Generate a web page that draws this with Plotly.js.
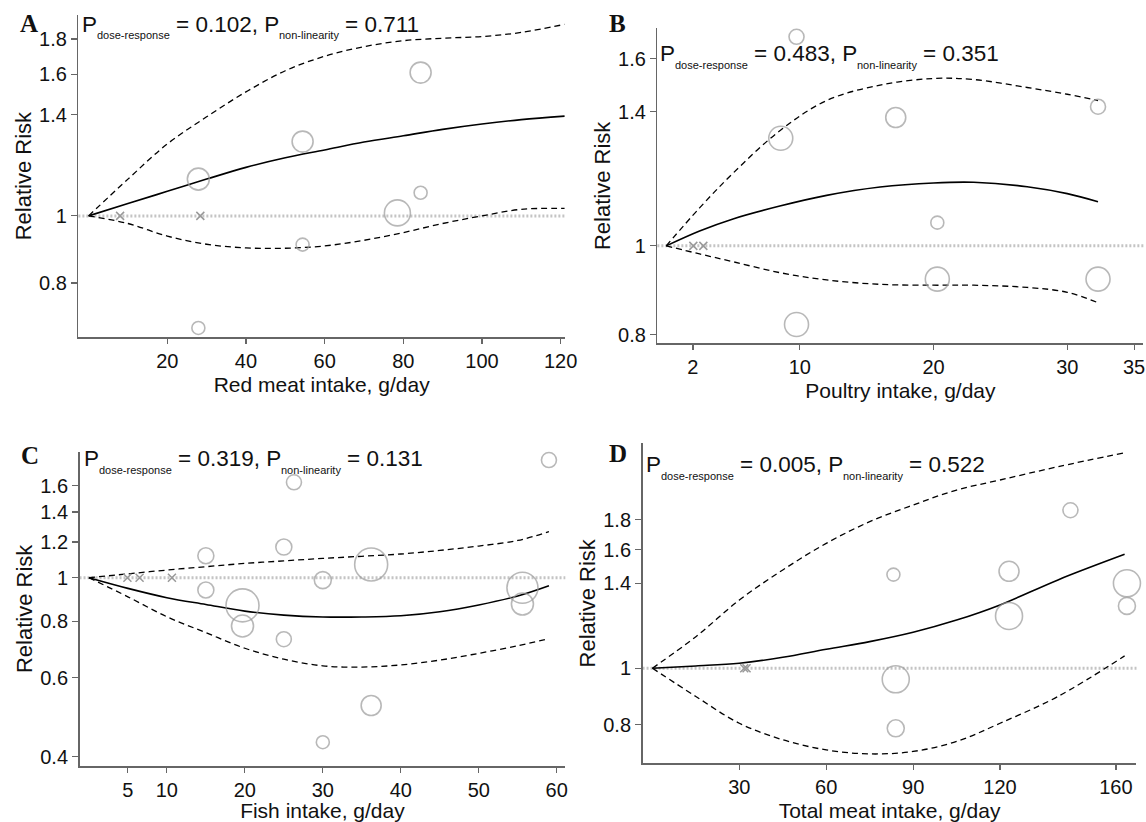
<!DOCTYPE html>
<html>
<head>
<meta charset="utf-8">
<script src="https://cdn.plot.ly/plotly-3.0.1.min.js"></script>
<style>html,body{margin:0;padding:0;background:#fff;}#chart{width:1146px;height:822px;}</style>
</head>
<body>
<div id="chart"></div>
<script>
// ---------------- DATA ----------------
var panelLetters = ['A', 'B', 'C', 'D'];
var xTitles = ['Red meat intake, g/day', 'Poultry intake, g/day', 'Fish intake, g/day', 'Total meat intake, g/day'];
var pDose = ['0.102', '0.483', '0.319', '0.005'];
var pNonlin = ['0.711', '0.351', '0.131', '0.522'];

// Panel A: red meat
var aCurveX = [0, 10, 20, 30, 40, 50, 60, 70, 80, 90, 100, 110, 121];
var aRR     = [1, 1.042, 1.085, 1.13, 1.175, 1.213, 1.245, 1.278, 1.305, 1.333, 1.357, 1.377, 1.393];
var aUpper  = [1, 1.13, 1.27, 1.39, 1.51, 1.62, 1.70, 1.755, 1.79, 1.805, 1.815, 1.84, 1.89];
var aLower  = [1, 0.975, 0.935, 0.91, 0.899, 0.898, 0.905, 0.922, 0.946, 0.975, 1.0, 1.022, 1.025];
var aStudyX = [27.9, 27.9, 54.4, 54.4, 78.5, 84.4, 84.4, 121.3];
var aStudyRR = [1.13, 0.689, 1.28, 0.909, 1.01, 1.61, 1.08, 1.12];
var aWeight = [22, 13, 21, 13, 26, 21, 13, 26];
var aRefX = [8.0, 28.4];

// Panel B: poultry
var bCurveX = [0, 2.5, 5, 8.5, 12, 16, 20, 23, 27, 30, 32.3];
var bRR     = [1, 1.038, 1.07, 1.105, 1.135, 1.159, 1.171, 1.173, 1.16, 1.14, 1.117];
var bUpper  = [1, 1.1, 1.2, 1.335, 1.44, 1.497, 1.522, 1.518, 1.488, 1.463, 1.44];
var bLower  = [1, 0.98, 0.961, 0.935, 0.918, 0.908, 0.906, 0.906, 0.901, 0.89, 0.867];
var bStudyX = [9.75, 8.57, 17.17, 32.3, 20.28, 20.28, 32.3, 9.75];
var bStudyRR = [1.69, 1.31, 1.38, 1.418, 1.06, 0.92, 0.92, 0.821];
var bWeight = [15, 24, 20, 15, 13, 24, 24, 24];
var bRefX = [2.03, 2.78];

// Panel C: fish
var cCurveX = [0, 5, 10, 15, 20, 25, 30, 35, 40, 45, 50, 55, 59];
var cRR     = [1, 0.947, 0.903, 0.872, 0.843, 0.826, 0.818, 0.818, 0.823, 0.84, 0.87, 0.911, 0.96];
var cUpper  = [1, 1.02, 1.04, 1.058, 1.076, 1.09, 1.104, 1.116, 1.129, 1.15, 1.176, 1.21, 1.266];
var cLower  = [1, 0.907, 0.819, 0.755, 0.697, 0.659, 0.637, 0.633, 0.64, 0.656, 0.679, 0.706, 0.732];
var cStudyX = [59.0, 26.3, 15.0, 15.0, 25.0, 25.0, 19.7, 19.7, 30.0, 30.0, 36.2, 36.2, 55.6, 55.6];
var cStudyRR = [1.826, 1.63, 1.119, 0.939, 1.17, 0.73, 0.868, 0.781, 0.988, 0.431, 1.07, 0.52, 0.95, 0.874];
var cWeight = [15, 15, 16, 16, 16, 15, 33, 22, 17, 13, 33, 20, 31, 22];
var cRefX = [4.94, 6.5, 10.65];

// Panel D: total meat
var dCurveX = [0, 15, 30, 45, 60, 75, 90, 105, 120, 140, 163];
var dRR     = [1, 1.009, 1.02, 1.044, 1.078, 1.111, 1.153, 1.21, 1.285, 1.419, 1.57];
var dUpper  = [1, 1.133, 1.31, 1.476, 1.64, 1.787, 1.909, 2.026, 2.108, 2.222, 2.349];
var dLower  = [1, 0.894, 0.804, 0.753, 0.7235, 0.712, 0.719, 0.748, 0.804, 0.894, 1.05];
var dStudyX = [144.3, 83.2, 123.1, 123.1, 163.8, 163.8, 84.0, 84.0];
var dStudyRR = [1.87, 1.449, 1.468, 1.23, 1.40, 1.28, 0.957, 0.788];
var dWeight = [15, 13, 20, 27, 27, 17, 27, 17];
var dRefX = [31.7, 32.5];

// tick labels
var aXTicks = [20, 40, 60, 80, 100, 120];
var aYTicks = [0.8, 1, 1.4, 1.6, 1.8];
var bXTicks = [2, 10, 20, 30, 35];
var bYTicks = [0.8, 1, 1.4, 1.6];
var cXTicks = [5, 10, 20, 30, 40, 50, 60];
var cYTicks = [0.4, 0.6, 0.8, 1, 1.2, 1.4, 1.6];
var dXTicks = [30, 60, 90, 120, 160];
var dYTicks = [0.8, 1, 1.4, 1.6, 1.8];
var refRR = 1;

// ---------------- LAYOUT / STYLE ----------------
var panels = [
  {cx: aCurveX, rr: aRR, up: aUpper, lo: aLower, sx: aStudyX, sy: aStudyRR, w: aWeight, rx: aRefX, xt: aXTicks, yt: aYTicks,
   xdom: [0.0684, 0.4930], ydom: [0.5897, 0.9818], xr: [-2.6, 121.1], yr: [0.668, 1.95],
   letter: [18, 24], ann: [82, 32.3]},
  {cx: bCurveX, rr: bRR, up: bUpper, lo: bLower, sx: bStudyX, sy: bStudyRR, w: bWeight, rx: bRefX, xt: bXTicks, yt: bYTicks,
   xdom: [0.5736, 0.9978], ydom: [0.5823, 0.9655], xr: [-0.66, 35.7], yr: [0.783, 1.726],
   letter: [607, 23.5], ann: [659.5, 61.7]},
  {cx: cCurveX, rr: cRR, up: cUpper, lo: cLower, sx: cStudyX, sy: cStudyRR, w: cWeight, rx: cRefX, xt: cXTicks, yt: cYTicks,
   xdom: [0.0694, 0.4933], ydom: [0.0681, 0.4505], xr: [-1.2, 61.1], yr: [0.3815, 1.906],
   letter: [19, 455], ann: [84, 466.7]},
  {cx: dCurveX, rr: dRR, up: dUpper, lo: dLower, sx: dStudyX, sy: dStudyRR, w: dWeight, rx: dRefX, xt: dXTicks, yt: dYTicks,
   xdom: [0.5607, 0.9917], ydom: [0.0714, 0.4607], xr: [-3.4, 167.1], yr: [0.686, 2.438],
   letter: [607, 453.5], ann: [646, 472.7]}
];

var W = 1146, H = 822;
var FAMILY = 'Liberation Sans';
var FONT = 'Liberation Sans, Arial, sans-serif';
var TXT = '#111';
var MAIN = 22.5, SUB = 11, SUBDROP = 6.5, DESC = 0.212;
var traces = [];
var layout = {
  width: W, height: H,
  margin: {l: 0, r: 0, t: 0, b: 0},
  paper_bgcolor: '#fff', plot_bgcolor: '#fff',
  showlegend: false,
  font: {family: FONT, size: 20, color: TXT},
  annotations: [], shapes: []
};

var ctx = document.createElement('canvas').getContext('2d');
function measure(text, size) {
  ctx.font = size + 'px "' + FAMILY + '"';
  return ctx.measureText(text).width;
}

panels.forEach(function (p, i) {
  var n = i === 0 ? '' : String(i + 1);
  var xa = 'x' + n, ya = 'y' + n;
  var lineBase = {xaxis: xa, yaxis: ya, mode: 'lines', hoverinfo: 'skip'};
  traces.push(Object.assign({}, lineBase, {x: p.cx, y: p.up, line: {color: '#000', width: 1.3, dash: '6px,4px', shape: 'spline'}}));
  traces.push(Object.assign({}, lineBase, {x: p.cx, y: p.lo, line: {color: '#000', width: 1.3, dash: '6px,4px', shape: 'spline'}}));
  traces.push(Object.assign({}, lineBase, {x: p.cx, y: p.rr, line: {color: '#000', width: 1.6, shape: 'spline'}}));
  traces.push({xaxis: xa, yaxis: ya, mode: 'markers', x: p.sx, y: p.sy, cliponaxis: false,
    marker: {symbol: 'circle-open', size: p.w, color: '#9a9a9a', line: {width: 1.6, color: '#9a9a9a'}}});
  traces.push({xaxis: xa, yaxis: ya, mode: 'markers', x: p.rx, y: p.rx.map(function () { return refRR; }),
    marker: {symbol: 'x-thin-open', size: 8, color: '#999', line: {width: 1.5, color: '#999'}}});

  layout.shapes.push({type: 'line', xref: xa + ' domain', yref: ya, x0: 0, x1: 1, y0: refRR, y1: refRR,
    line: {color: '#c4c4c4', width: 3, dash: '2px,2px'}, layer: 'below'});

  layout['xaxis' + n] = {
    domain: p.xdom, anchor: ya, range: p.xr, tickvals: p.xt, ticktext: p.xt.map(String),
    showline: true, linecolor: '#666', linewidth: 1.5, ticks: 'outside', ticklen: 5, tickcolor: '#666', tickwidth: 1.2,
    showgrid: false, zeroline: false, tickfont: {family: FONT, size: 20, color: TXT},
    title: {text: xTitles[i], font: {family: FONT, size: 21, color: TXT}, standoff: 6}
  };
  layout['yaxis' + n] = {
    domain: p.ydom, anchor: xa, type: 'log', range: [Math.log10(p.yr[0]), Math.log10(p.yr[1])],
    tickvals: p.yt, ticktext: p.yt.map(String),
    showline: true, linecolor: '#666', linewidth: 1.5, ticks: 'outside', ticklen: 6, tickcolor: '#666', tickwidth: 1.2,
    showgrid: false, zeroline: false, tickfont: {family: FONT, size: 20, color: TXT},
    title: {text: 'Relative Risk', font: {family: FONT, size: 22, color: TXT}, standoff: 1}
  };

  layout.annotations.push({xref: 'paper', yref: 'paper', x: p.letter[0] / W, y: 1 - p.letter[1] / H,
    xanchor: 'left', yanchor: 'middle', showarrow: false, text: '<b>' + panelLetters[i] + '</b>',
    font: {family: 'Liberation Serif, Times New Roman, serif', size: 25, color: TXT}});

  // P-value statement: main text with smaller, lowered subscripts, laid out piece by piece
  var pieces = [
    ['P', MAIN], ['dose-response', SUB], ['= ' + pDose[i] + ', P', MAIN],
    ['non-linearity', SUB], ['= ' + pNonlin[i], MAIN]
  ];
  var cursor = p.ann[0];
  pieces.forEach(function (pc, k) {
    if (k > 0 && pc[1] === MAIN) cursor += measure(' ', MAIN);
    var baseline = p.ann[1] + (pc[1] === SUB ? SUBDROP : 0);
    var bottom = baseline + DESC * pc[1];
    layout.annotations.push({xref: 'paper', yref: 'paper', x: cursor / W, y: 1 - bottom / H,
      xanchor: 'left', yanchor: 'bottom', showarrow: false, borderpad: 0, borderwidth: 0,
      text: pc[0], font: {family: FONT, size: pc[1], color: TXT}});
    cursor += measure(pc[0], pc[1]);
  });
});

Plotly.newPlot('chart', traces, layout, {staticPlot: true, displayModeBar: false});
</script>
</body>
</html>
